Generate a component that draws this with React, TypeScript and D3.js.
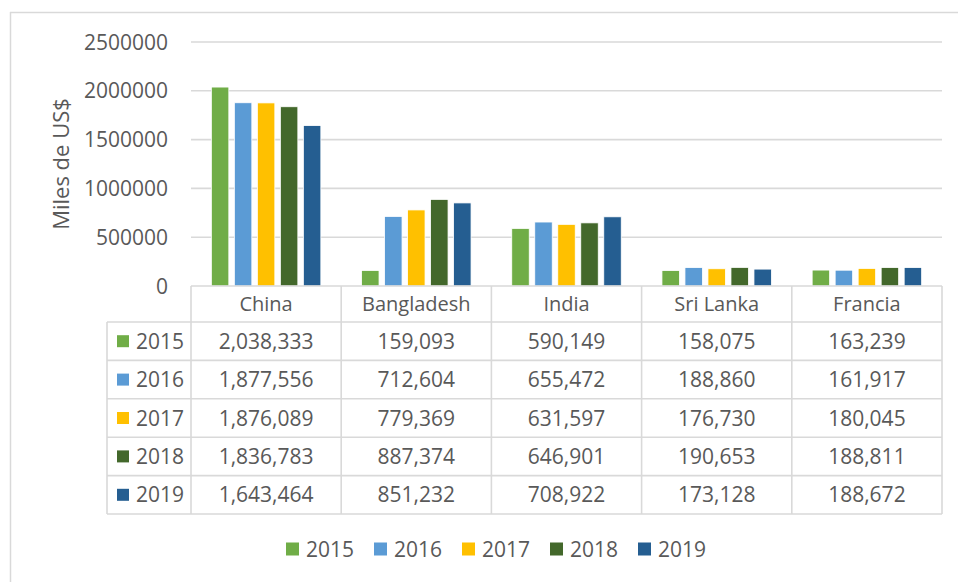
import React from "react";
import * as d3 from "d3";

const categories = ["China", "Bangladesh", "India", "Sri Lanka", "Francia"];
const years = ["2015", "2016", "2017", "2018", "2019"];
const colors = ["#70AD47", "#5B9BD5", "#FFC000", "#43682B", "#255E91"];

// one array per year, values in category order
const v2015 = [2038333, 159093, 590149, 158075, 163239];
const v2016 = [1877556, 712604, 655472, 188860, 161917];
const v2017 = [1876089, 779369, 631597, 176730, 180045];
const v2018 = [1836783, 887374, 646901, 190653, 188811];
const v2019 = [1643464, 851232, 708922, 173128, 188672];
const series = [v2015, v2016, v2017, v2018, v2019];

const yTicks = [0, 500000, 1000000, 1500000, 2000000, 2500000];

const width = 958;
const height = 583;
const plotLeft = 191;
const plotRight = 942;
const plotTop = 42;
const plotBottom = 286;
const headerH = 36;
const rowH = 38.4;
const keyLeft = 107;

const font = "'Open Sans', 'Liberation Sans', sans-serif";
const textColor = "#595959";
const lineColor = "#D9D9D9";

export default function App() {
  const x0 = d3.scaleBand().domain(categories).range([plotLeft, plotRight]);
  const groupW = 109.5;
  const x1 = d3.scaleBand().domain(years).range([0, groupW]).paddingInner(0.24);
  const y = d3.scaleLinear().domain([0, 2500000]).range([plotBottom, plotTop]);
  const fmt = d3.format(",");

  const tableTop = plotBottom + headerH;
  const tableBottom = tableTop + rowH * years.length;

  const legendX = d3.scaleBand().domain(years).range([286, 286 + 88 * 5]);
  const legendY = 549;

  return (
    <svg
      width={width}
      height={height}
      style={{ position: "absolute", left: 0, top: 0, background: "#fff" }}
      fontFamily={font}
    >
      {/* chart frame */}
      <line x1={10} x2={width} y1={12.5} y2={12.5} stroke={lineColor} strokeWidth={1.5} />
      <line x1={10.5} x2={10.5} y1={12} y2={582} stroke={lineColor} strokeWidth={1.5} />

      {/* gridlines and y ticks */}
      {yTicks.map((t) => (
        <g key={t}>
          {t > 0 && (
            <line x1={plotLeft} x2={plotRight} y1={y(t)} y2={y(t)} stroke={lineColor} strokeWidth={1.6} />
          )}
          <text x={168} y={y(t)} dy="0.36em" textAnchor="end" fontSize={21} fill={textColor}>
            {t}
          </text>
        </g>
      ))}

      <text
        transform={`translate(61,164) rotate(-90)`}
        textAnchor="middle"
        dy="0.36em"
        fontSize={22}
        fill={textColor}
      >
        Miles de US$
      </text>

      {/* bars */}
      {categories.map((c, ci) => {
        const gx = x0(c)! + (x0.bandwidth() - groupW) / 2;
        return (
          <g key={c} transform={`translate(${gx},0)`}>
            {years.map((yr, si) => (
              <rect
                key={yr}
                x={x1(yr)!}
                y={y(series[si][ci])}
                width={x1.bandwidth()}
                height={plotBottom - y(series[si][ci])}
                fill={colors[si]}
                stroke="#fff"
                strokeWidth={0.8}
              />
            ))}
          </g>
        );
      })}

      {/* data table */}
      <g stroke={lineColor} strokeWidth={1.6} fill="none">
        <line x1={plotLeft} x2={plotRight} y1={plotBottom} y2={plotBottom} />
        {years.map((yr, i) => (
          <line key={yr} x1={keyLeft} x2={plotRight} y1={tableTop + rowH * i} y2={tableTop + rowH * i} />
        ))}
        <line x1={keyLeft} x2={plotRight} y1={tableBottom} y2={tableBottom} />
        <line x1={keyLeft} x2={keyLeft} y1={tableTop} y2={tableBottom} />
        {categories.map((c) => (
          <line key={c} x1={x0(c)!} x2={x0(c)!} y1={plotBottom} y2={tableBottom} />
        ))}
        <line x1={plotRight} x2={plotRight} y1={plotBottom} y2={tableBottom} />
      </g>

      {categories.map((c) => (
        <text
          key={c}
          x={x0(c)! + x0.bandwidth() / 2}
          y={plotBottom + headerH / 2}
          dy="0.36em"
          textAnchor="middle"
          fontSize={20}
          fill={textColor}
        >
          {c}
        </text>
      ))}

      {years.map((yr, si) => {
        const cy = tableTop + rowH * si + rowH / 2;
        return (
          <g key={yr}>
            <rect x={117} y={cy - 6} width={12} height={12} fill={colors[si]} />
            <text x={136} y={cy} dy="0.36em" fontSize={21} fill={textColor}>
              {yr}
            </text>
            {categories.map((c, ci) => (
              <text
                key={c}
                x={x0(c)! + x0.bandwidth() / 2}
                y={cy}
                dy="0.36em"
                textAnchor="middle"
                fontSize={21}
                fill={textColor}
              >
                {fmt(series[si][ci])}
              </text>
            ))}
          </g>
        );
      })}

      {/* legend */}
      {years.map((yr, si) => (
        <g key={yr} transform={`translate(${legendX(yr)},${legendY})`}>
          <rect x={0} y={-6.5} width={13} height={13} fill={colors[si]} />
          <text x={20} y={0} dy="0.36em" fontSize={21} fill={textColor}>
            {yr}
          </text>
        </g>
      ))}
    </svg>
  );
}
